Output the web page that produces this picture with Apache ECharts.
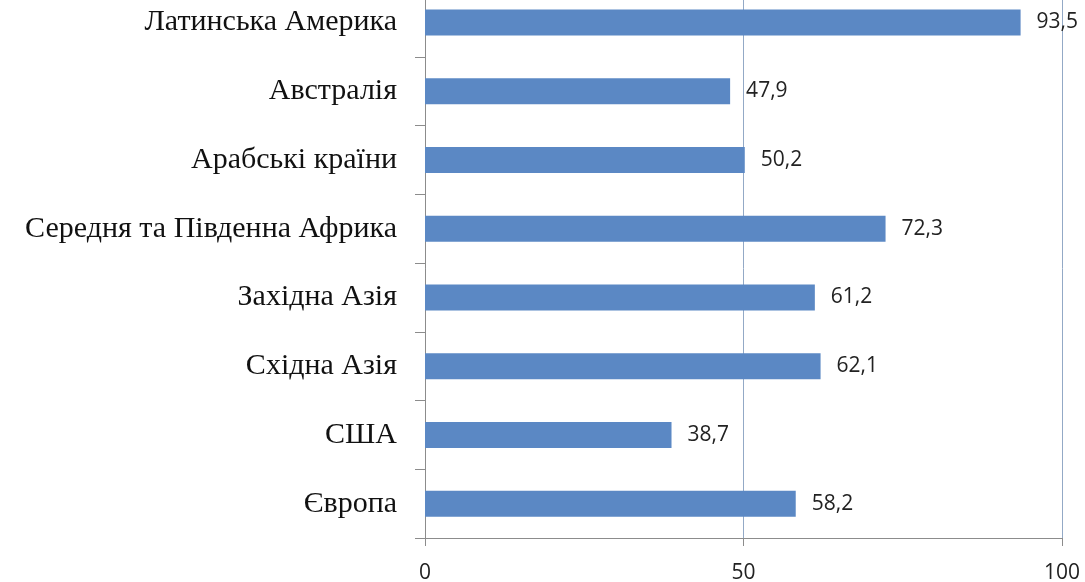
<!DOCTYPE html>
<html>
<head>
    <meta charset="utf-8">
    <title>ECharts</title>
    <script src="https://cdn.jsdelivr.net/npm/echarts@6/dist/echarts.min.js"></script>
    <style>
        html, body { margin: 0; padding: 0; background: #fff; }
    </style>
</head>
<body>
<div id="main" style="width: 1085px;height:582px;"></div>
<script type="text/javascript">

        // категорії знизу вгору
        var regions = ['Європа', 'США', 'Східна Азія', 'Західна Азія',
            'Середня та Південна Африка', 'Арабські країни', 'Австралія', 'Латинська Америка'];
        var values = [58.2, 38.7, 62.1, 61.2, 72.3, 50.2, 47.9, 93.5];
        var xTicks = [0, 50, 100];

        var myChart = echarts.init(document.getElementById('main'));

        var option = {
            animation: false,
            grid: {
                left: 425,
                right: 23,
                top: -12,
                bottom: 44,
                outerBoundsMode: 'none'
            },
            xAxis: {
                type: 'value',
                min: xTicks[0],
                max: xTicks[xTicks.length - 1],
                interval: xTicks[1] - xTicks[0],
                axisLine: {show: true, lineStyle: {color: '#8c8c8c', width: 1}},
                axisTick: {show: true, length: 8, lineStyle: {color: '#8c8c8c'}},
                axisLabel: {
                    margin: 25,
                    color: '#222',
                    fontFamily: 'Open Sans',
                    fontSize: 21
                },
                splitLine: {show: true, lineStyle: {color: '#93a9c6', width: 1}}
            },
            yAxis: {
                type: 'category',
                data: regions,
                axisLine: {show: true, lineStyle: {color: '#8c8c8c', width: 1}},
                axisTick: {show: true, length: 10, inside: false, lineStyle: {color: '#8c8c8c'}},
                axisLabel: {
                    margin: 28,
                    color: '#111',
                    fontFamily: 'Liberation Serif',
                    fontSize: 30
                }
            },
            series: [
                {
                    type: 'bar',
                    data: values,
                    barWidth: 26,
                    itemStyle: {color: '#5b88c4'},
                    label: {
                        show: true,
                        position: 'right',
                        distance: 16,
                        color: '#222',
                        fontFamily: 'Open Sans',
                        fontSize: 21,
                        formatter: function (p) {
                            return String(p.value).replace('.', ',');
                        }
                    }
                }
            ]
        };

        myChart.setOption(option);

</script>
</body>
</html>
